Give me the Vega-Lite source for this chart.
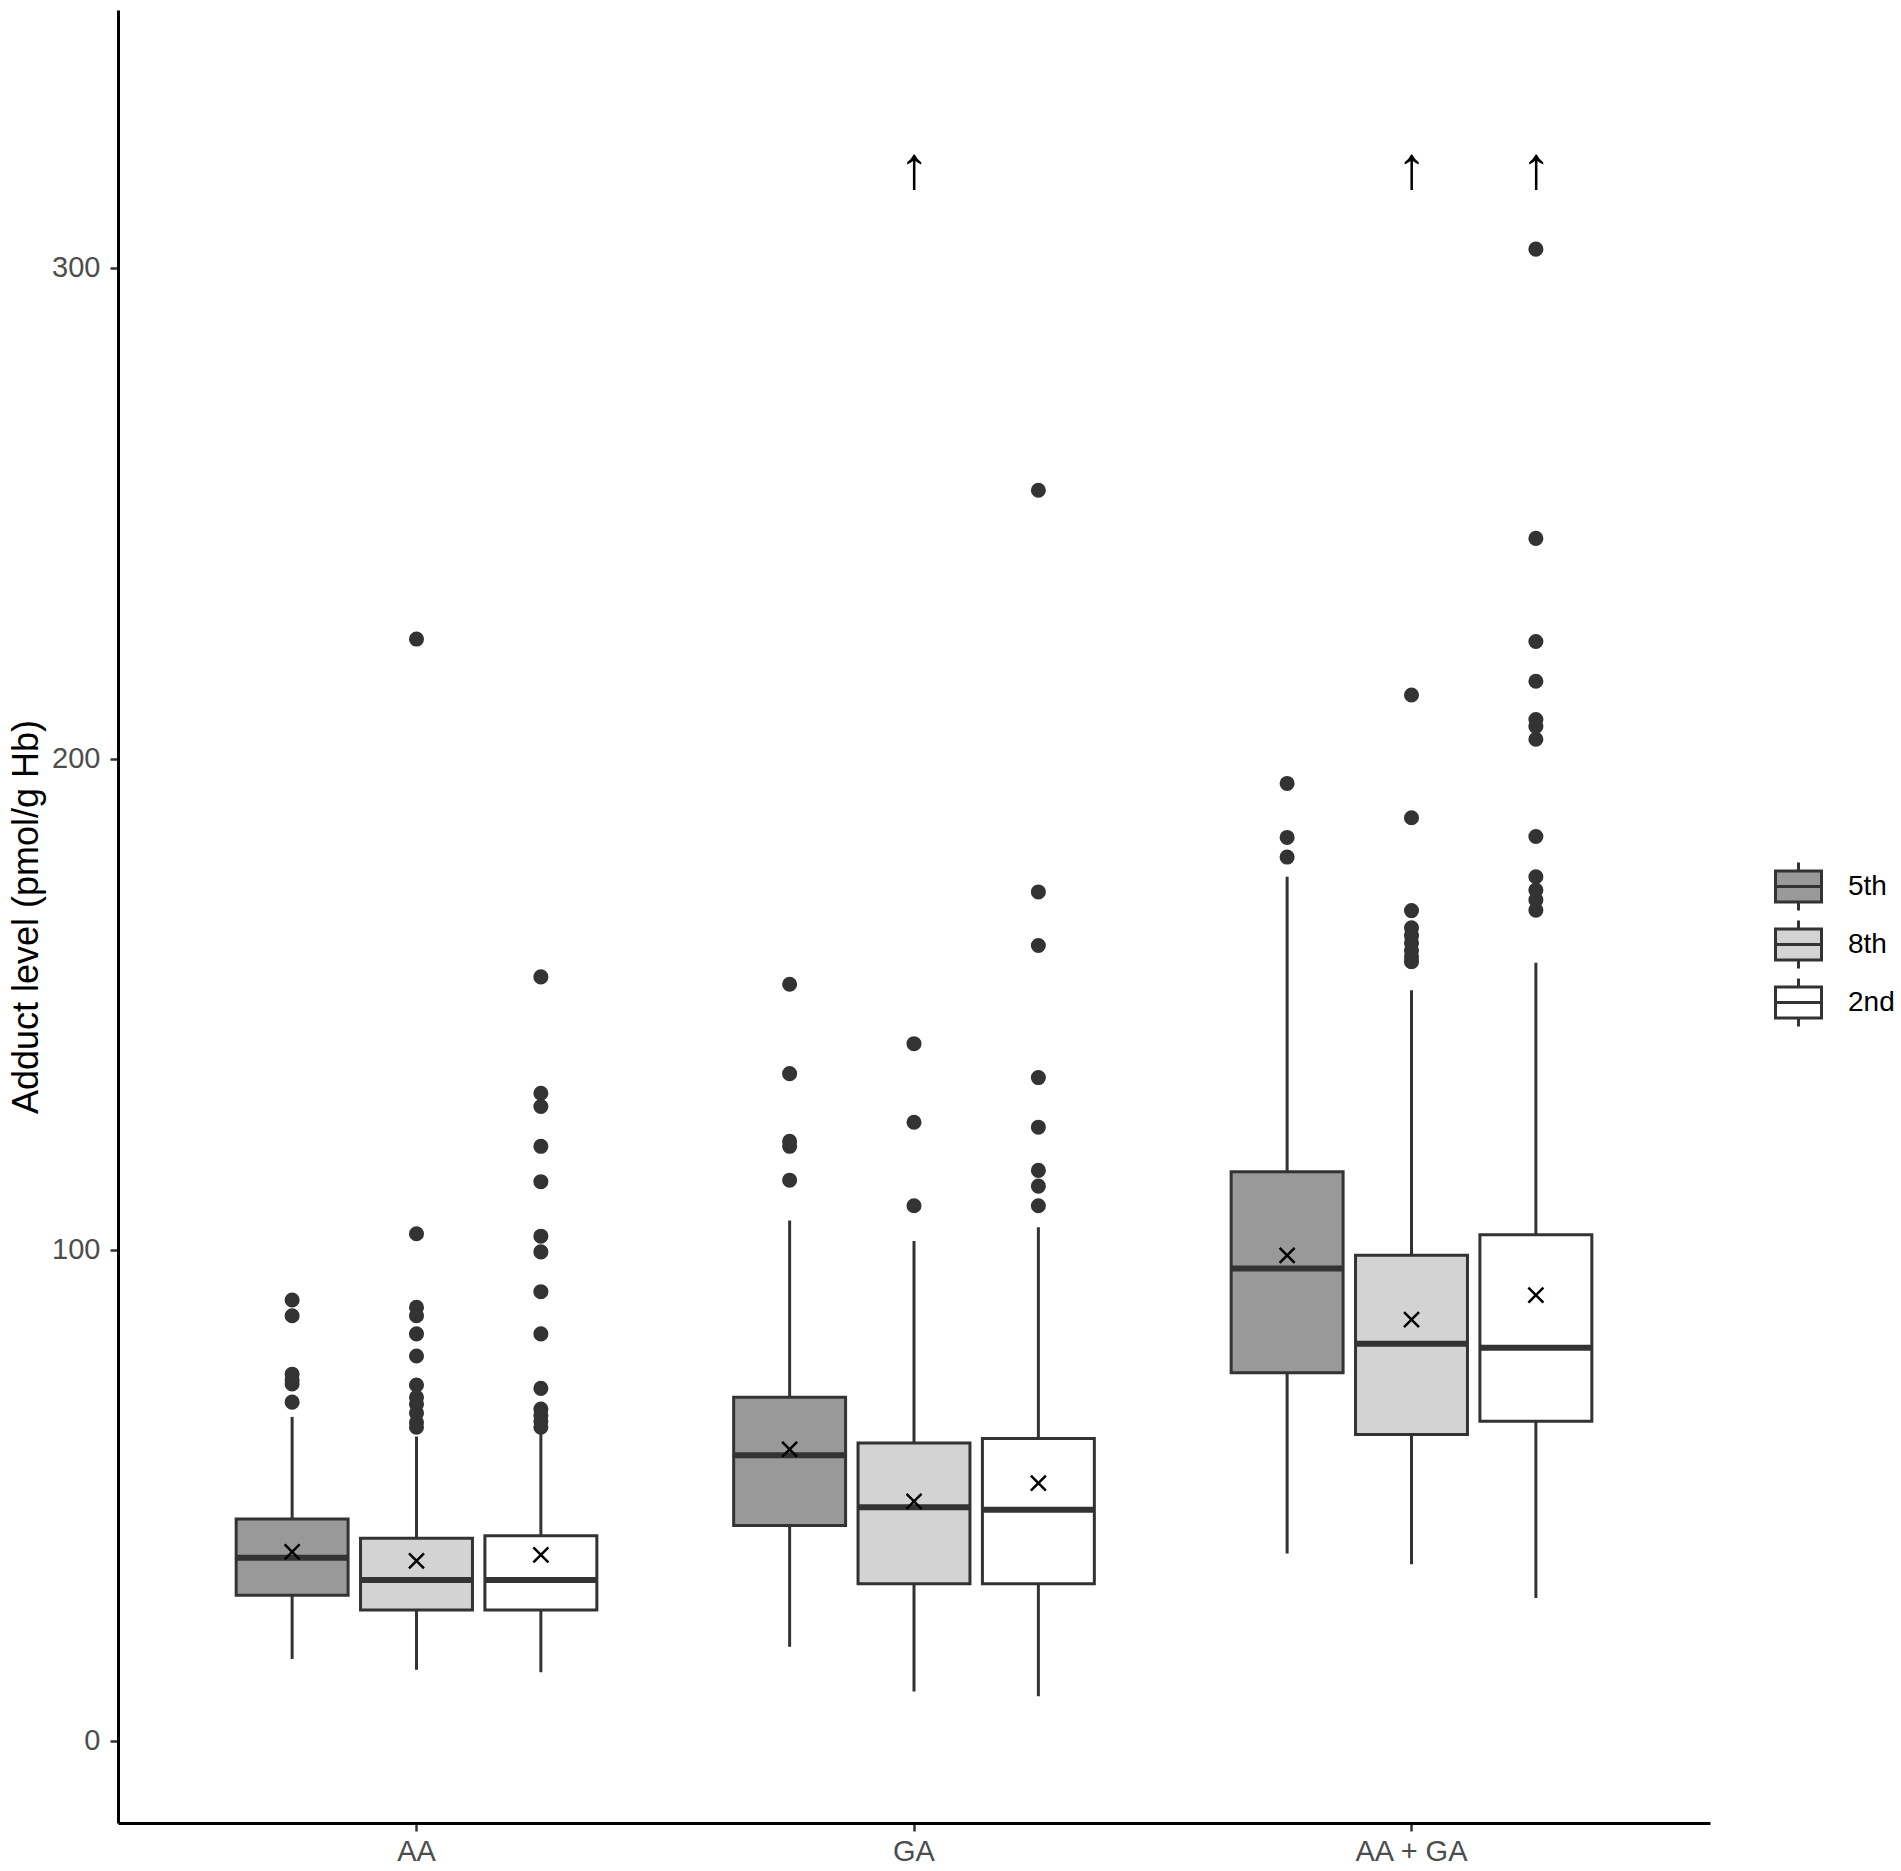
{
  "$schema": "https://vega.github.io/schema/vega-lite/v6.json",
  "autosize": {"type": "none"},
  "padding": {"left": 118, "top": 10, "right": 191, "bottom": 48},
  "width": 1592,
  "height": 1813,
  "background": "white",
  "config": {
    "view": {"stroke": null},
    "font": "Liberation Sans",
    "axis": {"grid": false, "domainColor": "black", "domainWidth": 3, "tickColor": "#333333", "tickWidth": 2.5, "tickSize": 8, "labelColor": "#4D4D4D", "labelFontSize": 29, "labelFont": "Liberation Sans", "titleFont": "Liberation Sans"}
  },
  "datasets": {
    "stats": [
      {"compound": "AA", "grade": "5th", "lower": 16.7, "q1": 29.7, "median": 37.3, "q3": 45.2, "upper": 66, "mean": 38.5},
      {"compound": "AA", "grade": "8th", "lower": 14.5, "q1": 26.7, "median": 32.8, "q3": 41.3, "upper": 62, "mean": 36.7},
      {"compound": "AA", "grade": "2nd", "lower": 14, "q1": 26.7, "median": 32.8, "q3": 41.8, "upper": 63.5, "mean": 37.9},
      {"compound": "GA", "grade": "5th", "lower": 19.2, "q1": 43.9, "median": 58.2, "q3": 70, "upper": 106, "mean": 59.4},
      {"compound": "GA", "grade": "8th", "lower": 10.1, "q1": 32, "median": 47.6, "q3": 60.7, "upper": 101.8, "mean": 48.8},
      {"compound": "GA", "grade": "2nd", "lower": 9.1, "q1": 32, "median": 47.1, "q3": 61.6, "upper": 104.6, "mean": 52.5},
      {"compound": "AA + GA", "grade": "5th", "lower": 38.2, "q1": 75, "median": 96.2, "q3": 115.9, "upper": 176, "mean": 98.9},
      {"compound": "AA + GA", "grade": "8th", "lower": 36, "q1": 62.4, "median": 80.9, "q3": 98.9, "upper": 152.9, "mean": 85.8},
      {"compound": "AA + GA", "grade": "2nd", "lower": 29.1, "q1": 65.1, "median": 80.1, "q3": 103.1, "upper": 158.5, "mean": 90.8}
    ],
    "outliers": [
      {"compound": "AA", "grade": "5th", "value": 89.8},
      {"compound": "AA", "grade": "5th", "value": 86.6},
      {"compound": "AA", "grade": "5th", "value": 74.7},
      {"compound": "AA", "grade": "5th", "value": 73.5},
      {"compound": "AA", "grade": "5th", "value": 72.7},
      {"compound": "AA", "grade": "5th", "value": 69},
      {"compound": "AA", "grade": "8th", "value": 224.4},
      {"compound": "AA", "grade": "8th", "value": 103.3},
      {"compound": "AA", "grade": "8th", "value": 88.3},
      {"compound": "AA", "grade": "8th", "value": 86.6},
      {"compound": "AA", "grade": "8th", "value": 82.9},
      {"compound": "AA", "grade": "8th", "value": 78.4},
      {"compound": "AA", "grade": "8th", "value": 72.5},
      {"compound": "AA", "grade": "8th", "value": 70},
      {"compound": "AA", "grade": "8th", "value": 68.6},
      {"compound": "AA", "grade": "8th", "value": 66.8},
      {"compound": "AA", "grade": "8th", "value": 64.9},
      {"compound": "AA", "grade": "8th", "value": 63.9},
      {"compound": "AA", "grade": "2nd", "value": 155.6},
      {"compound": "AA", "grade": "2nd", "value": 131.9},
      {"compound": "AA", "grade": "2nd", "value": 129.2},
      {"compound": "AA", "grade": "2nd", "value": 121.1},
      {"compound": "AA", "grade": "2nd", "value": 113.9},
      {"compound": "AA", "grade": "2nd", "value": 102.8},
      {"compound": "AA", "grade": "2nd", "value": 99.6},
      {"compound": "AA", "grade": "2nd", "value": 91.5},
      {"compound": "AA", "grade": "2nd", "value": 82.9},
      {"compound": "AA", "grade": "2nd", "value": 71.8},
      {"compound": "AA", "grade": "2nd", "value": 67.6},
      {"compound": "AA", "grade": "2nd", "value": 66.3},
      {"compound": "AA", "grade": "2nd", "value": 65.1},
      {"compound": "AA", "grade": "2nd", "value": 63.9},
      {"compound": "GA", "grade": "5th", "value": 154.1},
      {"compound": "GA", "grade": "5th", "value": 135.9},
      {"compound": "GA", "grade": "5th", "value": 122.1},
      {"compound": "GA", "grade": "5th", "value": 121.1},
      {"compound": "GA", "grade": "5th", "value": 114.2},
      {"compound": "GA", "grade": "8th", "value": 142},
      {"compound": "GA", "grade": "8th", "value": 126},
      {"compound": "GA", "grade": "8th", "value": 109},
      {"compound": "GA", "grade": "2nd", "value": 254.7},
      {"compound": "GA", "grade": "2nd", "value": 172.9},
      {"compound": "GA", "grade": "2nd", "value": 162},
      {"compound": "GA", "grade": "2nd", "value": 135.1},
      {"compound": "GA", "grade": "2nd", "value": 125},
      {"compound": "GA", "grade": "2nd", "value": 116.2},
      {"compound": "GA", "grade": "2nd", "value": 113},
      {"compound": "GA", "grade": "2nd", "value": 109},
      {"compound": "AA + GA", "grade": "5th", "value": 195},
      {"compound": "AA + GA", "grade": "5th", "value": 184},
      {"compound": "AA + GA", "grade": "5th", "value": 180},
      {"compound": "AA + GA", "grade": "8th", "value": 213},
      {"compound": "AA + GA", "grade": "8th", "value": 188},
      {"compound": "AA + GA", "grade": "8th", "value": 169.1},
      {"compound": "AA + GA", "grade": "8th", "value": 165.6},
      {"compound": "AA + GA", "grade": "8th", "value": 164},
      {"compound": "AA + GA", "grade": "8th", "value": 162.5},
      {"compound": "AA + GA", "grade": "8th", "value": 161},
      {"compound": "AA + GA", "grade": "8th", "value": 159.8},
      {"compound": "AA + GA", "grade": "8th", "value": 158.7},
      {"compound": "AA + GA", "grade": "2nd", "value": 303.8},
      {"compound": "AA + GA", "grade": "2nd", "value": 244.9},
      {"compound": "AA + GA", "grade": "2nd", "value": 223.9},
      {"compound": "AA + GA", "grade": "2nd", "value": 215.8},
      {"compound": "AA + GA", "grade": "2nd", "value": 208},
      {"compound": "AA + GA", "grade": "2nd", "value": 206.6},
      {"compound": "AA + GA", "grade": "2nd", "value": 204},
      {"compound": "AA + GA", "grade": "2nd", "value": 184.2},
      {"compound": "AA + GA", "grade": "2nd", "value": 176},
      {"compound": "AA + GA", "grade": "2nd", "value": 173.3},
      {"compound": "AA + GA", "grade": "2nd", "value": 171.3},
      {"compound": "AA + GA", "grade": "2nd", "value": 169.2}
    ],
    "arrows": [
      {"compound": "GA", "grade": "8th", "value": 320, "label": "↑"},
      {"compound": "AA + GA", "grade": "8th", "value": 320, "label": "↑"},
      {"compound": "AA + GA", "grade": "2nd", "value": 320, "label": "↑"}
    ]
  },
  "encoding": {
    "x": {"field": "compound", "type": "nominal", "sort": ["AA", "GA", "AA + GA"],
      "scale": {"paddingInner": 0, "paddingOuter": 0.1},
      "axis": {"title": null, "labelAngle": 0, "labelPadding": 6}},
    "xOffset": {"field": "grade", "type": "nominal", "sort": ["5th", "8th", "2nd"],
      "scale": {"paddingInner": 0.1, "paddingOuter": 0.55}}
  },
  "layer": [
    {
      "data": {"name": "stats"},
      "mark": {"type": "rule", "color": "#333333", "strokeWidth": 3},
      "encoding": {
        "y": {"field": "lower", "type": "quantitative",
          "scale": {"domain": [-16.7, 352.5], "nice": false, "zero": false},
          "axis": {"values": [0, 100, 200, 300], "title": "Adduct level (pmol/g Hb)", "titleFontSize": 36, "titleFontWeight": "normal", "titleColor": "black", "titlePadding": 6, "labelPadding": 10}},
        "y2": {"field": "upper"}
      }
    },
    {
      "data": {"name": "stats"},
      "mark": {"type": "bar", "stroke": "#333333", "strokeWidth": 3},
      "encoding": {
        "y": {"field": "q1", "type": "quantitative"},
        "y2": {"field": "q3"},
        "fill": {"field": "grade", "type": "nominal", "sort": ["5th", "8th", "2nd"],
          "scale": {"domain": ["5th", "8th", "2nd"], "range": ["#999999", "#D3D3D3", "#FFFFFF"]},
          "legend": {"title": null, "orient": "none", "legendX": 1656, "legendY": 852, "padding": 0,
            "symbolType": "M-1,-0.67H1V0.67H-1Z M-1,0H1 M0,-0.67V-1.04 M0,0.67V1.04",
            "symbolSize": 2116, "symbolStrokeColor": "#333333", "symbolStrokeWidth": 3,
            "labelFontSize": 28, "labelColor": "black", "labelOffset": 25, "rowPadding": -3,
            "labelFont": "Liberation Sans"}}
      }
    },
    {
      "data": {"name": "stats"},
      "mark": {"type": "tick", "color": "#333333", "thickness": 6, "size": 113, "orient": "horizontal", "opacity": 1},
      "encoding": {
        "y": {"field": "median", "type": "quantitative"}
      }
    },
    {
      "data": {"name": "stats"},
      "mark": {"type": "point", "shape": "M-1,-1L1,1M-1,1L1,-1", "size": 225, "filled": false, "stroke": "black", "strokeWidth": 2.5, "opacity": 1},
      "encoding": {
        "y": {"field": "mean", "type": "quantitative"}
      }
    },
    {
      "data": {"name": "outliers"},
      "mark": {"type": "circle", "size": 227, "color": "#333333", "opacity": 1},
      "encoding": {
        "y": {"field": "value", "type": "quantitative"}
      }
    },
    {
      "data": {"name": "arrows"},
      "mark": {"type": "text", "fontSize": 60, "color": "black", "baseline": "middle", "font": "Liberation Sans"},
      "encoding": {
        "y": {"field": "value", "type": "quantitative"},
        "text": {"field": "label"}
      }
    }
  ]
}
